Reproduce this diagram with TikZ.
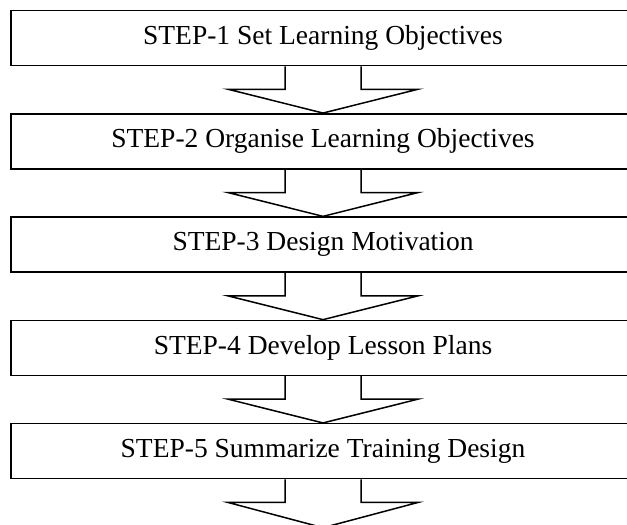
\documentclass[tikz,border=0pt]{standalone}
\usepackage{fontspec}
\setmainfont{Liberation Serif}
\usetikzlibrary{calc}
\tikzset{
  stepbox/.style={draw=black, line width=1.5pt, minimum width=624pt, minimum height=55pt,
    inner sep=0pt, font=\fontsize{27.5}{30}\selectfont, anchor=center},
  blockarrow/.style={draw=black, line width=1.5pt, line join=miter}
}
\newcommand{\blockarr}[2]{%
  \draw[blockarrow] ($(#1.south)+(-38pt,0)$) -- ++(0,-23pt) -- ++(-57pt,0)
    -- ($(#2.north)$) -- ($(#1.south)+(95pt,-23pt)$) -- ++(-57pt,0) -- ($(#1.south)+(38pt,0)$);}
\begin{document}
\begin{tikzpicture}[x=1pt,y=1pt]
\useasboundingbox (0,0) rectangle (627,-525);
\node[stepbox] (s1) at (323,-38.0)  {STEP-1 Set Learning Objectives};
\node[stepbox] (s2) at (323,-141.3) {STEP-2 Organise Learning Objectives};
\node[stepbox] (s3) at (323,-244.6) {STEP-3 Design Motivation};
\node[stepbox] (s4) at (323,-347.9) {STEP-4 Develop Lesson Plans};
\node[stepbox] (s5) at (323,-451.2) {STEP-5 Summarize Training Design};
\coordinate (end) at (323,-527.7);
\blockarr{s1}{s2}
\blockarr{s2}{s3}
\blockarr{s3}{s4}
\blockarr{s4}{s5}
\draw[blockarrow] ($(s5.south)+(-38pt,0)$) -- ++(0,-23pt) -- ++(-57pt,0)
    -- (end) -- ($(s5.south)+(95pt,-23pt)$) -- ++(-57pt,0) -- ($(s5.south)+(38pt,0)$);
\end{tikzpicture}
\end{document}
